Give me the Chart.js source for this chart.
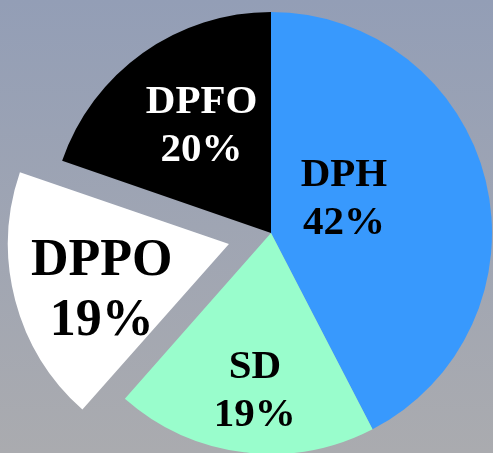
<!DOCTYPE html>
<html>
<head>
<meta charset="utf-8">
<script src="https://cdn.jsdelivr.net/npm/chart.js@4/dist/chart.umd.min.js"></script>
<style>
  html, body { margin: 0; padding: 0; }
  body {
    width: 493px; height: 453px; overflow: hidden;
    background: linear-gradient(to bottom, #939eb6 0%, #9fa5b3 50%, #aaabaf 100%);
  }
  canvas { display: block; }
</style>
</head>
<body>
<canvas id="pie" width="493" height="453"></canvas>
<script>
const categories = ['DPH', 'SD', 'DPPO', 'DPFO'];
// slice sizes as drawn; the labels show them rounded
const shares = [42.4, 19.1, 18.8, 19.7];
const sliceColors = ['#3899fd', '#99fdcc', '#ffffff', '#000000'];

// label look, one entry per slice
const labelColors = ['#000', '#000', '#000', '#fff'];
const labelSizes = [41, 41, 52, 41];
// where the label block sits: fraction of radius, and turn (deg) away from slice middle
const labelDist = [0.369, 0.708, 0.805, 0.587];
const labelTurn = [-12.9, -1.1, -3.2, 3.1];

const PIE_RADIUS = 221;

// chart.js grows an exploded slice a little; keep it the same size as the rest
const keepRadius = {
  id: 'keepRadius',
  afterUpdate(chart) {
    chart.getDatasetMeta(0).data.forEach((arc) => {
      const off = (arc.options.offset || 0) / 4;
      if (!off) return;
      const fix = 1 - Math.sin(Math.min(Math.PI, arc.circumference));
      arc.outerRadius = PIE_RADIUS - off * fix;
    });
  }
};

const sliceLabels = {
  id: 'sliceLabels',
  afterDatasetsDraw(chart) {
    const ctx = chart.ctx;
    const meta = chart.getDatasetMeta(0);
    meta.data.forEach((arc, i) => {
      const p = arc.getProps(['x', 'y', 'startAngle', 'endAngle'], true);
      const mid = (p.startAngle + p.endAngle) / 2 + labelTurn[i] * Math.PI / 180;
      const r = PIE_RADIUS * labelDist[i];
      const cx = p.x + Math.cos(mid) * r;
      const cy = p.y + Math.sin(mid) * r;
      const fs = labelSizes[i];
      const capH = fs * 0.662;
      const lineGap = fs * 1.17;
      const base2 = cy + (capH + lineGap) / 2;
      ctx.save();
      ctx.font = 'bold ' + fs + 'px "Liberation Serif", "Times New Roman", serif';
      ctx.fillStyle = labelColors[i];
      ctx.textAlign = 'center';
      ctx.textBaseline = 'alphabetic';
      ctx.fillText(categories[i], cx, base2 - lineGap);
      ctx.fillText(Math.round(shares[i]) + '%', cx, base2);
      ctx.restore();
    });
  }
};

new Chart(document.getElementById('pie').getContext('2d'), {
  type: 'pie',
  data: {
    labels: categories,
    datasets: [{
      data: shares,
      backgroundColor: sliceColors,
      borderWidth: 0,
      offset: [0, 0, 174, 0],
      radius: PIE_RADIUS
    }]
  },
  options: {
    responsive: false,
    animation: false,
    layout: { padding: { left: 49, right: 0, top: 13, bottom: 0 } },
    plugins: {
      legend: { display: false },
      tooltip: { enabled: false }
    }
  },
  plugins: [keepRadius, sliceLabels]
});
</script>
</body>
</html>
